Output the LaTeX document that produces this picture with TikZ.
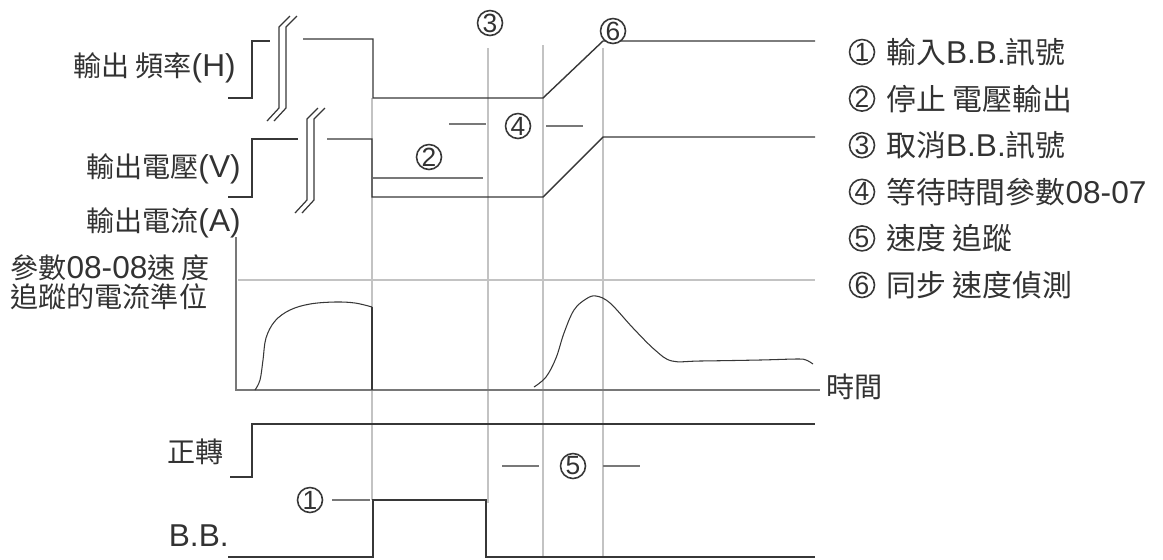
\documentclass[tikz,border=0pt]{standalone}
\usepackage{fontspec}
\setmainfont{Noto Sans CJK TC}
\newfontfamily\latfont{Liberation Sans}
\usepackage{tikz}
\usetikzlibrary{calc}
\definecolor{sigline}{RGB}{55,55,55}
\definecolor{markline}{RGB}{195,195,195}
\definecolor{tickline}{RGB}{120,120,120}
\definecolor{labtext}{RGB}{50,50,50}
\newcommand{\lat}[1]{{\latfont\fontsize{18}{20}\selectfont #1}}
\newcommand{\sigbreak}[2]{%
  \begin{scope}[shift={(#1)}]
    \foreach \d in {0,7}{%
      \draw[sigline,line width=0.7pt] (\d+11,-11) -- (\d,0) -- (\d,#2) -- (\d-12,#2+13);}
  \end{scope}}

\begin{document}
\begin{tikzpicture}[x=0.02cm,y=-0.02cm,line cap=butt,line join=miter,
  sig/.style={sigline,line width=0.8pt},
  marker/.style={markline,line width=0.8pt},
  tick/.style={tickline,line width=0.8pt},
  circnum/.style={circle,draw=sigline,line width=0.9pt,minimum size=0.5cm,
    font=\latfont\fontsize{15}{15}\selectfont},
  every node/.append style={inner sep=0pt,text=labtext,font=\fontsize{16}{18}\selectfont}]
\useasboundingbox (0,0) rectangle (1163,559);

% ============================ marker lines ============================
\draw[marker] (372,98) -- (372,500);
\draw[marker] (488,48) -- (488,503);
\draw[marker] (543,45) -- (543,557);
\draw[marker] (603,48) -- (603,557);

% ============================== signals ===============================
% output frequency
\draw[sig] (228,98) -- (252,98) -- (252,41) -- (270,41);
\draw[sig] (303,39) -- (373,39) -- (373,98) -- (543,98) -- (603,41) -- (815,41);
\sigbreak{279,27}{81}

% output voltage
\draw[sig] (228,197) -- (252,197) -- (252,139) -- (298,139);
\draw[sig] (327,139) -- (372,139) -- (372,197) -- (543,197) -- (603,137) -- (815,137);
\sigbreak{307,119}{81}

% output current
\draw[tick] (236,237) -- (236,390) -- (820,390);
\draw[marker] (238,280) -- (815,280);
\draw[sigline,line width=0.6pt] plot[smooth,tension=0.6] coordinates
  {(255,390) (260,380) (263,360) (266,338) (275,321) (290,310) (310,304)
   (335,302) (355,303) (372,307)};
\draw[sigline,line width=0.6pt] (372,307) -- (372,390);
\draw[sigline,line width=0.6pt] plot[smooth,tension=0.6] coordinates
  {(534,387) (546,377) (556,358) (564,333) (574,310) (586,299) (596,296)
   (610,303) (633,328) (655,350) (672,361) (700,361) (760,360) (797,359)
   (806,360) (813,364)};

% forward run
\draw[sig] (230,477) -- (252,477) -- (252,424) -- (815,424);

% base block
\draw[sig] (228,557) -- (373,557) -- (373,500) -- (486,500) -- (486,557) -- (815,557);

% ============================ event ticks =============================
\draw[tick] (332,500) -- (370,500);
\draw[tick] (373,178) -- (483,178);
\draw[tick] (449,124) -- (486,124);
\draw[tick] (546,126) -- (583,126);
\draw[tick] (502,466) -- (539,466);
\draw[tick] (603,466) -- (640,466);

\node[circnum] (m1) at (310,500) {1};
\node[circnum] (m2) at (429,157) {2};
\node[circnum] (m3) at (490,23)  {3};
\node[circnum] (m4) at (518,126) {4};
\node[circnum] (m5) at (573,466) {5};
\node[circnum,fill=white] (m6) at (613,31)  {6};

% ============================== labels ================================
\node[anchor=east] (lfreq) at (236,68)  {輸出 頻率\lat{(H)}};
\node[anchor=east] (lvolt) at (241,169) {輸出電壓\lat{(V)}};
\node[anchor=east] (lcurr) at (241,223) {輸出電流\lat{(A)}};
\node[anchor=west] (llev1) at (10,268)  {參數\lat{08-08}速 度};
\node[anchor=west] (llev2) at (10,297)  {追蹤的電流準位};
\node[anchor=east] (lfwd)  at (224,452) {正轉};
\node[anchor=east] (lbb)   at (229,536) {\lat{B.B.}};
\node[anchor=west] (ltime) at (826,387) {時間};

% ============================== legend ================================
\foreach \t [count=\i] in {輸入\lat{B.B.}訊號, 停止 電壓輸出, 取消\lat{B.B.}訊號,
    等待時間參數\lat{08-07}, 速度 追蹤, 同步 速度偵測}{%
  \pgfmathsetmacro{\ky}{52+46.6*(\i-1)}
  \node[circnum] (k\i n) at (862,\ky) {\i};
  \node[anchor=west,font=\fontsize{17}{19}\selectfont] (k\i) at (886,\ky) {\t};
}

\end{tikzpicture}
\end{document}
